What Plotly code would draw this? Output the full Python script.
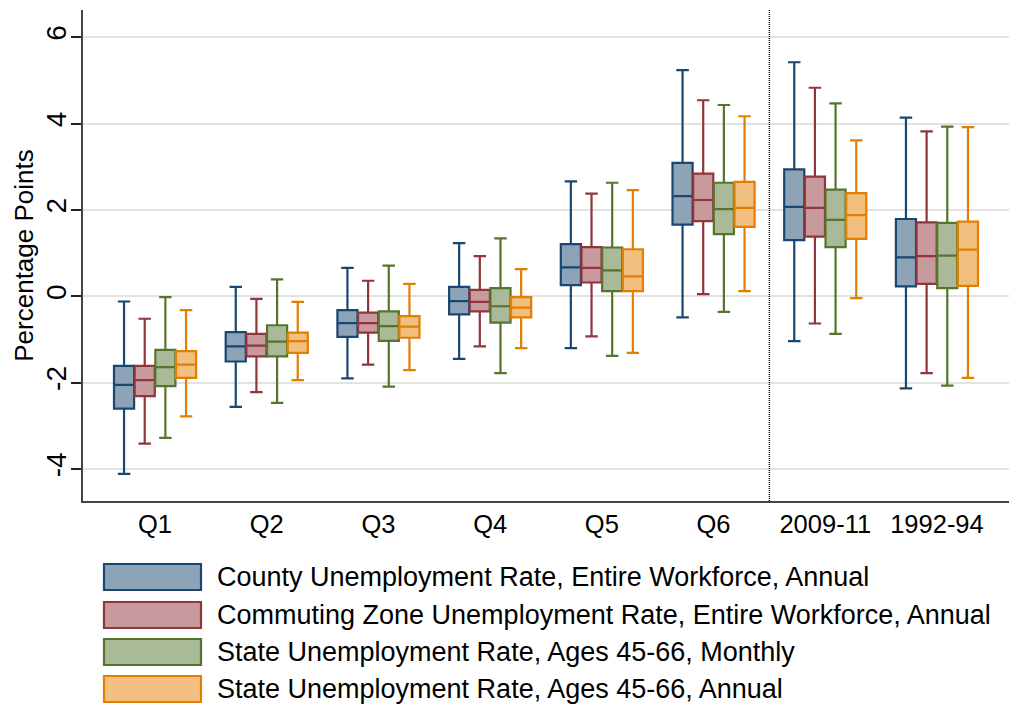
import plotly.graph_objects as go

# Categories on the x axis
groups = ["Q1", "Q2", "Q3", "Q4", "Q5", "Q6", "2009-11", "1992-94"]

series_names = [
    "County Unemployment Rate, Entire Workforce, Annual",
    "Commuting Zone Unemployment Rate, Entire Workforce, Annual",
    "State Unemployment Rate, Ages 45-66, Monthly",
    "State Unemployment Rate, Ages 45-66, Annual",
]

# Box statistics per series (percentage points), one value per group
county_lower = [-4.11, -2.56, -1.90, -1.45, -1.20, -0.49, -1.04, -2.13]
county_q1 = [-2.60, -1.51, -0.94, -0.42, 0.26, 1.66, 1.30, 0.23]
county_med = [-2.05, -1.16, -0.62, -0.11, 0.67, 2.32, 2.07, 0.90]
county_q3 = [-1.61, -0.83, -0.32, 0.22, 1.21, 3.09, 2.94, 1.79]
county_upper = [-0.12, 0.22, 0.66, 1.23, 2.66, 5.24, 5.42, 4.14]

cz_lower = [-3.41, -2.22, -1.58, -1.16, -0.93, 0.05, -0.63, -1.78]
cz_q1 = [-2.31, -1.39, -0.84, -0.35, 0.32, 1.74, 1.38, 0.29]
cz_med = [-1.94, -1.14, -0.62, -0.13, 0.66, 2.23, 2.05, 0.93]
cz_q3 = [-1.61, -0.87, -0.38, 0.15, 1.14, 2.84, 2.77, 1.71]
cz_upper = [-0.52, -0.06, 0.36, 0.93, 2.38, 4.54, 4.83, 3.82]

st_m_lower = [-3.28, -2.47, -2.09, -1.78, -1.38, -0.36, -0.87, -2.07]
st_m_q1 = [-2.08, -1.39, -1.03, -0.61, 0.12, 1.44, 1.14, 0.19]
st_m_med = [-1.64, -1.05, -0.69, -0.23, 0.60, 2.02, 1.77, 0.94]
st_m_q3 = [-1.24, -0.67, -0.35, 0.19, 1.13, 2.63, 2.47, 1.70]
st_m_upper = [-0.02, 0.39, 0.71, 1.34, 2.63, 4.43, 4.47, 3.93]

st_a_lower = [-2.78, -1.94, -1.71, -1.20, -1.31, 0.12, -0.04, -1.89]
st_a_q1 = [-1.89, -1.31, -0.96, -0.49, 0.12, 1.61, 1.33, 0.24]
st_a_med = [-1.58, -1.04, -0.70, -0.26, 0.46, 2.05, 1.88, 1.08]
st_a_q3 = [-1.27, -0.84, -0.46, -0.02, 1.09, 2.65, 2.39, 1.73]
st_a_upper = [-0.32, -0.13, 0.29, 0.63, 2.46, 4.17, 3.61, 3.92]

y_ticks = [-4, -2, 0, 2, 4, 6]

stats = [
    (county_lower, county_q1, county_med, county_q3, county_upper),
    (cz_lower, cz_q1, cz_med, cz_q3, cz_upper),
    (st_m_lower, st_m_q1, st_m_med, st_m_q3, st_m_upper),
    (st_a_lower, st_a_q1, st_a_med, st_a_q3, st_a_upper),
]

line_colors = ["#1a476f", "#90353b", "#55752f", "#e37e00"]
fill_colors = ["#8da3b8", "#c89a9d", "#aab997", "#f1bf80"]

# Horizontal placement of the four boxes inside each group
offsets = [-0.2775, -0.0925, 0.0925, 0.2775]
box_width = 0.18

FONT = "Liberation Sans, Arial, sans-serif"

W, H = 1021, 707
M_L, M_R, M_T, M_B = 83, 12, 10, 206
PLOT_W = W - M_L - M_R
PLOT_H = H - M_T - M_B


def px_x(px):
    return (px - M_L) / PLOT_W


def px_y(py):
    return (H - M_B - py) / PLOT_H


fig = go.Figure()

for k, (lo, q1, med, q3, hi) in enumerate(stats):
    fig.add_trace(
        go.Box(
            x=[i + offsets[k] for i in range(len(groups))],
            lowerfence=lo,
            q1=q1,
            median=med,
            q3=q3,
            upperfence=hi,
            width=box_width,
            whiskerwidth=0.62,
            line=dict(color=line_colors[k], width=2.2),
            fillcolor=fill_colors[k],
            name=series_names[k],
            showlegend=False,
            hoverinfo="skip",
        )
    )

# Dotted separator between the quantile groups and the period groups
fig.add_shape(
    type="line",
    xref="x",
    yref="paper",
    x0=5.5,
    x1=5.5,
    y0=0,
    y1=1,
    line=dict(color="#000000", width=1.4, dash="1px,1px"),
    layer="above",
)

# Legend block below the plot
row_tops = [563, 601, 638, 675]
for k, name in enumerate(series_names):
    top = row_tops[k]
    fig.add_shape(
        type="rect",
        xref="paper",
        yref="paper",
        x0=px_x(104),
        x1=px_x(201),
        y0=px_y(top + 27),
        y1=px_y(top + 1),
        line=dict(color=line_colors[k], width=2.2),
        fillcolor=fill_colors[k],
    )
    fig.add_annotation(
        xref="paper",
        yref="paper",
        x=px_x(215),
        y=px_y(top + 14),
        xanchor="left",
        yanchor="middle",
        text=name,
        showarrow=False,
        font=dict(family=FONT, size=27, color="#000000"),
    )

fig.update_layout(
    width=W,
    height=H,
    margin=dict(l=M_L, r=M_R, t=M_T, b=M_B),
    paper_bgcolor="white",
    plot_bgcolor="white",
    boxmode="overlay",
    showlegend=False,
    font=dict(family=FONT, color="#000000"),
)

fig.update_xaxes(
    range=[-0.645, 7.645],
    tickvals=list(range(len(groups))),
    ticktext=groups,
    ticks="",
    showgrid=False,
    zeroline=False,
    showline=True,
    linecolor="#444444",
    linewidth=1.5,
    tickfont=dict(family=FONT, size=25.5, color="#000000"),
    ticklabelstandoff=0,
)

fig.update_yaxes(
    range=[-4.74, 6.63],
    tickvals=y_ticks,
    ticktext=[str(v) for v in y_ticks],
    tickangle=-90,
    ticks="outside",
    ticklen=10,
    tickwidth=1.5,
    tickcolor="#222222",
    showgrid=True,
    gridcolor="#e2e2e2",
    gridwidth=1.6,
    zeroline=False,
    showline=True,
    linecolor="#444444",
    linewidth=1.5,
    tickfont=dict(family=FONT, size=28, color="#000000"),
    ticklabelstandoff=-6,
    title=dict(text="Percentage Points", font=dict(family=FONT, size=26, color="#000000"), standoff=0),
)

fig.write_html("out.html")
